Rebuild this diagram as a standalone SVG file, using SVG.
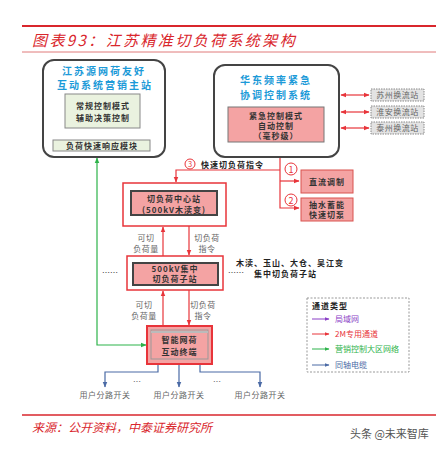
<svg xmlns="http://www.w3.org/2000/svg" width="446" height="453" viewBox="0 0 446 453">
<style>
text{font-family:"Noto Sans CJK SC","Liberation Sans",sans-serif;}
.blue{fill:#1c9ad8;font-size:10px;font-weight:bold;letter-spacing:2px;text-anchor:middle;}
.box{font-size:8px;fill:#333;font-weight:bold;text-anchor:middle;letter-spacing:1px;}
.gray{font-size:8px;fill:#666;text-anchor:middle;letter-spacing:0.5px;}
.dark{font-size:8px;fill:#222;font-weight:bold;letter-spacing:1px;}
.red{stroke:#e8343a;stroke-width:1.2;fill:none;}
</style>
<defs>
<marker id="ar" viewBox="0 0 10 10" refX="9" refY="5" markerWidth="5" markerHeight="5" orient="auto-start-reverse"><path d="M0,1 L10,5 L0,9 z" fill="#e8343a"/></marker>
<marker id="ag" viewBox="0 0 10 10" refX="9" refY="5" markerWidth="5" markerHeight="5" orient="auto-start-reverse"><path d="M0,1 L10,5 L0,9 z" fill="#2db34a"/></marker>
<marker id="ab" viewBox="0 0 10 10" refX="9" refY="5" markerWidth="5" markerHeight="5" orient="auto-start-reverse"><path d="M0,1 L10,5 L0,9 z" fill="#4a6aa5"/></marker>
<marker id="ap" viewBox="0 0 10 10" refX="9" refY="5" markerWidth="5" markerHeight="5" orient="auto-start-reverse"><path d="M0,1 L10,5 L0,9 z" fill="#8a3fc6"/></marker>
</defs>
<rect width="446" height="453" fill="#fff"/>
<!-- header -->
<line x1="22" y1="26" x2="436" y2="26" stroke="#d9262c" stroke-width="2"/>
<text x="32" y="46" font-size="15" fill="#d9262c" font-style="italic" letter-spacing="2.4">图表93：江苏精准切负荷系统架构</text>
<line x1="22" y1="52" x2="436" y2="52" stroke="#e07a7a" stroke-width="1"/>

<g id="connectors">
<line x1="103" y1="128" x2="103" y2="138" stroke="#8a3fc6" stroke-width="1" marker-end="url(#ap)"/>
<polyline points="97,158 97,345 146,345" fill="none" stroke="#2db34a" stroke-width="1.2" marker-start="url(#ag)" marker-end="url(#ag)"/>
<line x1="341" y1="95" x2="369" y2="95" class="red" marker-start="url(#ar)" marker-end="url(#ar)"/>
<line x1="341" y1="112" x2="369" y2="112" class="red" marker-start="url(#ar)" marker-end="url(#ar)"/>
<line x1="341" y1="128" x2="369" y2="128" class="red" marker-start="url(#ar)" marker-end="url(#ar)"/>
<polyline points="280,157 280,208 299,208" class="red" marker-end="url(#ar)"/>
<line x1="280" y1="181" x2="299" y2="181" class="red" marker-end="url(#ar)"/>
<polyline points="280,170 176,170 176,182" class="red" marker-end="url(#ar)"/>
<line x1="163" y1="256" x2="163" y2="227" class="red" marker-end="url(#ar)"/>
<line x1="189" y1="226" x2="189" y2="255" class="red" marker-end="url(#ar)"/>
<line x1="163" y1="326" x2="163" y2="291" class="red" marker-end="url(#ar)"/>
<line x1="189" y1="290" x2="189" y2="325" class="red" marker-end="url(#ar)"/>
<polyline points="158,364 158,372 105,372 105,387" fill="none" stroke="#4a6aa5" stroke-width="1.2" marker-end="url(#ab)"/>
<line x1="179" y1="364" x2="179" y2="387" stroke="#4a6aa5" stroke-width="1.2" marker-end="url(#ab)"/>
<polyline points="200,364 200,372 260,372 260,387" fill="none" stroke="#4a6aa5" stroke-width="1.2" marker-end="url(#ab)"/>
</g>

<g id="main-station">
<rect x="43" y="60" width="122" height="97" rx="11" fill="#fff" stroke="#444" stroke-width="2"/>
<text x="104" y="75" class="blue">江苏源网荷友好</text>
<text x="105" y="89" class="blue">互动系统营销主站</text>
<rect x="65" y="94" width="75" height="34" fill="#eaf2df" stroke="#888" stroke-width="1"/>
<text x="103" y="109" class="box">常规控制模式</text>
<text x="103" y="121" class="box">辅助决策控制</text>
<rect x="53" y="140" width="97" height="11" fill="#eaf2df" stroke="#888" stroke-width="1"/>
<text x="102" y="148.5" class="box" font-size="7.5">负荷快速响应模块</text>
</g>

<g id="east-china">
<rect x="214" y="65" width="125" height="92" rx="11" fill="#fff" stroke="#444" stroke-width="2"/>
<text x="276" y="84" class="blue">华东频率紧急</text>
<text x="276" y="98.5" class="blue">协调控制系统</text>
<rect x="228" y="107" width="96" height="35" fill="#f4a3a3" stroke="#777" stroke-width="1"/>
<text x="276" y="119" class="box">紧急控制模式</text>
<text x="276" y="129" class="box">自动控制</text>
<text x="276" y="139" class="box">（毫秒级）</text>
</g>

<g id="converters">
<rect x="371" y="89" width="53" height="12" fill="#e3e3e3" stroke="#888" stroke-dasharray="1.5,1"/>
<text x="397.5" y="97.5" class="gray" font-size="6.5">苏州换流站</text>
<rect x="371" y="106" width="53" height="12" fill="#e3e3e3" stroke="#888" stroke-dasharray="1.5,1"/>
<text x="397.5" y="114.5" class="gray" font-size="6.5">淮安换流站</text>
<rect x="371" y="122" width="53" height="12" fill="#e3e3e3" stroke="#888" stroke-dasharray="1.5,1"/>
<text x="397.5" y="130.5" class="gray" font-size="6.5">泰州换流站</text>
</g>

<g id="labels-cmd">
<circle cx="190" cy="164" r="5" fill="#fff" stroke="#e8343a" stroke-width="1"/>
<text x="190" y="167" font-size="7.5" fill="#e8343a" text-anchor="middle">3</text>
<text x="201" y="168" class="dark">快速切负荷指令</text>
<circle cx="291" cy="169" r="6" fill="#fff" stroke="#e8343a" stroke-width="1"/>
<text x="291" y="172.5" font-size="9" fill="#e8343a" text-anchor="middle">1</text>
<circle cx="291" cy="200" r="6" fill="#fff" stroke="#e8343a" stroke-width="1"/>
<text x="291" y="203.5" font-size="9" fill="#e8343a" text-anchor="middle">2</text>
</g>

<g id="dc-mod">
<rect x="301" y="170" width="52" height="23" fill="#f4a3a3" stroke="#d9534f" stroke-width="1"/>
<text x="327" y="184.5" class="box">直流调制</text>
</g>
<g id="pump">
<rect x="301" y="198" width="52" height="23" fill="#f4a3a3" stroke="#d9534f" stroke-width="1"/>
<text x="327" y="207.5" class="box">抽水蓄能</text>
<text x="327" y="217.5" class="box">快速切泵</text>
</g>

<g id="center-station">
<rect x="123" y="183" width="103" height="43" fill="#fff" stroke="#e8343a" stroke-width="1.5"/>
<rect x="131" y="191" width="86" height="24" fill="#f4a3a3" stroke="#444" stroke-width="2"/>
<text x="174" y="202" class="box">切负荷中心站</text>
<text x="174" y="212.5" class="box" letter-spacing="0.6">(500kV木渎变)</text>
</g>
<text x="146" y="241" class="gray">可切</text>
<text x="146" y="252" class="gray">负荷量</text>
<text x="207" y="241" class="gray">切负荷</text>
<text x="207" y="252" class="gray">指令</text>

<g id="sub-station">
<rect x="127" y="256" width="96" height="34" fill="#fff" stroke="#e8343a" stroke-width="1.5"/>
<rect x="133" y="263" width="85" height="22" fill="#f4a3a3" stroke="#444" stroke-width="2"/>
<text x="175" y="272" class="box">500kV集中</text>
<text x="175" y="282" class="box">切负荷子站</text>
</g>
<text x="102" y="276" font-size="8" fill="#444">……</text>
<text x="228" y="276" font-size="8" fill="#444">……</text>
<text x="236" y="266" class="dark">木渎、玉山、大仓、吴江变</text>
<text x="254" y="277" class="dark">集中切负荷子站</text>
<text x="144" y="308" class="gray">可切</text>
<text x="144" y="319" class="gray">负荷量</text>
<text x="203" y="308" class="gray">切负荷</text>
<text x="203" y="319" class="gray">指令</text>

<g id="terminal">
<rect x="147" y="326" width="65" height="38" fill="#f4a3a3" stroke="#e8343a" stroke-width="2"/>
<rect x="151" y="330" width="57" height="29" fill="#f4a3a3" stroke="#999" stroke-width="1"/>
<line x1="151" y1="332" x2="208" y2="332" stroke="#bbb" stroke-width="2"/>
<text x="179.5" y="343" class="box" font-size="10">智能网荷</text>
<text x="179.5" y="355" class="box" font-size="10">互动终端</text>
</g>

<g id="switches">
<text x="105" y="398" class="gray">用户分路开关</text>
<text x="179" y="398" class="gray">用户分路开关</text>
<text x="260" y="398" class="gray">用户分路开关</text>
<text x="137" y="385" font-size="8" fill="#666" text-anchor="middle">…</text>
<text x="217" y="385" font-size="8" fill="#666" text-anchor="middle">…</text>
</g>

<g id="legend">
<rect x="307" y="298" width="102" height="74" fill="#fff" stroke="#999" stroke-dasharray="2,1.5"/>
<text x="312" y="309" class="dark" letter-spacing="0.5">通道类型</text>
<line x1="312" y1="319" x2="329" y2="319" stroke="#8a3fc6" stroke-width="1" marker-end="url(#ap)"/>
<text x="335" y="322" font-size="8" fill="#8a3fc6">局域网</text>
<line x1="312" y1="334" x2="329" y2="334" stroke="#e8343a" stroke-width="1" marker-end="url(#ar)"/>
<text x="335" y="337" font-size="8" fill="#e8343a">2M专用通道</text>
<line x1="312" y1="349" x2="329" y2="349" stroke="#2db34a" stroke-width="1" marker-end="url(#ag)"/>
<text x="335" y="352" font-size="8" fill="#2db34a">营销控制大区网络</text>
<line x1="312" y1="365" x2="329" y2="365" stroke="#4a6aa5" stroke-width="1" marker-end="url(#ab)"/>
<text x="335" y="368" font-size="8" fill="#4a6aa5">同轴电缆</text>
</g>

<line x1="22" y1="415" x2="436" y2="415" stroke="#d9262c" stroke-width="1.5"/>
<text x="32" y="432" font-size="12" fill="#d9262c" font-style="italic">来源：公开资料，中泰证券研究所</text>
<text x="350" y="438" font-size="11" fill="#555">头条 @未来智库</text>
</svg>
